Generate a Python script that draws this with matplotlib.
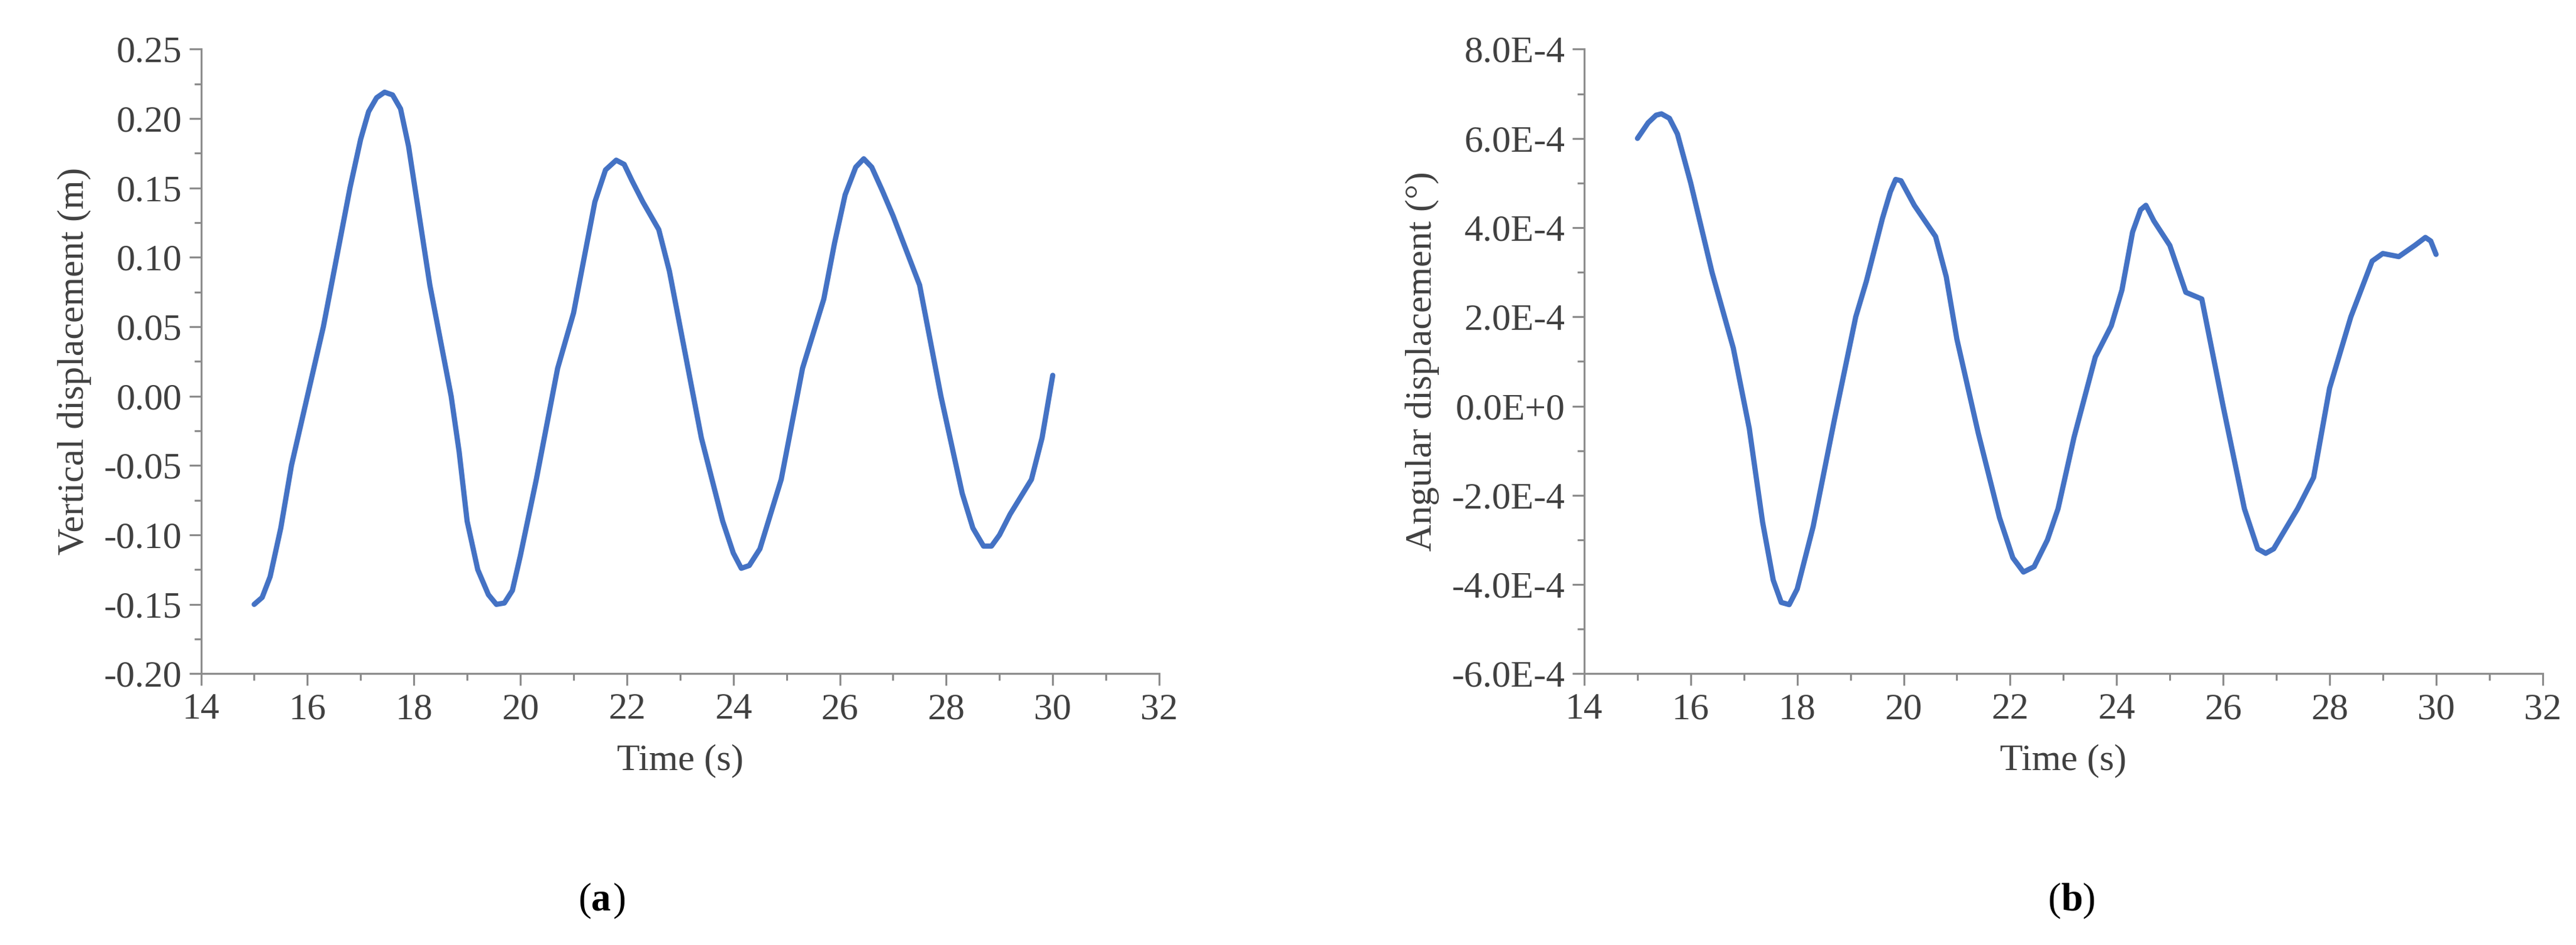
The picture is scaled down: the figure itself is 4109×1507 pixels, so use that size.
import matplotlib
matplotlib.use("Agg")
import matplotlib.pyplot as plt
from matplotlib.ticker import MultipleLocator, FuncFormatter

# ── data ─────────────────────────────────────────────────────────────
time_a = [15.0, 15.15, 15.3, 15.5, 15.7, 16.0, 16.3, 16.55, 16.8, 17.0, 17.15, 17.3, 17.45,
          17.6, 17.75, 17.9, 18.1, 18.3, 18.5, 18.7, 18.85, 19.0, 19.2, 19.4, 19.55,
          19.7, 19.85, 20.0, 20.3, 20.7, 21.0, 21.2, 21.4, 21.6, 21.8, 21.95, 22.1,
          22.3, 22.6, 22.8, 23.0, 23.4, 23.8, 24.0, 24.15, 24.3, 24.5, 24.9, 25.3,
          25.7, 25.9, 26.1, 26.3, 26.45, 26.6, 26.8, 27.0, 27.5, 27.9, 28.3, 28.5,
          28.7, 28.85, 29.0, 29.2, 29.6, 29.8, 30.0]
vert_disp = [-0.15, -0.145, -0.13, -0.095, -0.05, 0.0, 0.05, 0.10, 0.15, 0.185, 0.205, 0.215, 0.219,
             0.217, 0.207, 0.18, 0.13, 0.08, 0.04, 0.0, -0.04, -0.09, -0.125, -0.143, -0.15,
             -0.149, -0.14, -0.115, -0.06, 0.02, 0.06, 0.10, 0.14, 0.163, 0.17, 0.167, 0.155,
             0.14, 0.12, 0.09, 0.05, -0.03, -0.09, -0.113, -0.124, -0.122, -0.11, -0.06, 0.02,
             0.07, 0.11, 0.145, 0.165, 0.171, 0.165, 0.148, 0.13, 0.08, 0.0, -0.07, -0.095,
             -0.108, -0.108, -0.1, -0.085, -0.06, -0.03, 0.015]

time_b = [15.0, 15.2, 15.35, 15.45, 15.6, 15.75, 16.0, 16.4, 16.8, 17.1, 17.35, 17.55, 17.7,
          17.85, 18.0, 18.3, 18.7, 19.1, 19.3, 19.6, 19.75, 19.85, 19.95, 20.2, 20.6,
          20.8, 21.0, 21.4, 21.8, 22.05, 22.25, 22.45, 22.7, 22.9, 23.2, 23.6, 23.9,
          24.1, 24.3, 24.45, 24.55, 24.7, 25.0, 25.3, 25.6, 26.0, 26.4, 26.65, 26.8,
          26.95, 27.1, 27.4, 27.7, 28.0, 28.4, 28.8, 29.0, 29.3, 29.6, 29.8, 29.9, 30.0]
ang_disp_e4 = [6.0, 6.35, 6.52, 6.55, 6.45, 6.1, 5.0, 3.0, 1.3, -0.5, -2.6, -3.9, -4.4,
               -4.45, -4.1, -2.7, -0.3, 2.0, 2.8, 4.2, 4.8, 5.08, 5.05, 4.5, 3.8,
               2.9, 1.5, -0.6, -2.5, -3.4, -3.72, -3.6, -3.0, -2.3, -0.7, 1.1, 1.8,
               2.6, 3.9, 4.4, 4.5, 4.15, 3.6, 2.55, 2.4, 0.0, -2.3, -3.2, -3.3,
               -3.2, -2.9, -2.3, -1.6, 0.4, 2.0, 3.25, 3.42, 3.35, 3.6, 3.78, 3.7, 3.4]
ang_disp = [v * 1e-4 for v in ang_disp_e4]

plt.rcParams["font.family"] = ["Liberation Serif", "DejaVu Serif"]
FS = 43
LINE = "#4472C4"
GREY = "#8c8c8c"
TXT = "#404040"

fig = plt.figure(figsize=(41.09, 15.07), dpi=100)
ax_a = fig.add_axes([0.078, 0.287, 0.372, 0.661])
ax_b = fig.add_axes([0.615, 0.287, 0.372, 0.661])


def style(ax):
    for s in ("top", "right"):
        ax.spines[s].set_visible(False)
    for s in ("left", "bottom"):
        ax.spines[s].set_color(GREY)
        ax.spines[s].set_linewidth(2.2)
    ax.tick_params(which="both", direction="out", color=GREY, width=2.2,
                   labelsize=FS, labelcolor=TXT, pad=8)
    ax.tick_params(which="major", length=14)
    ax.tick_params(which="minor", length=8)
    ax.set_xlim(14, 32)
    ax.xaxis.set_major_locator(MultipleLocator(2))
    ax.xaxis.set_minor_locator(MultipleLocator(1))
    ax.set_xlabel("Time (s)", fontsize=FS, color=TXT, labelpad=20)


ax_a.plot(time_a, vert_disp, color=LINE, lw=6, solid_joinstyle="round", solid_capstyle="round")
style(ax_a)
ax_a.set_ylim(-0.20, 0.25)
ax_a.yaxis.set_major_locator(MultipleLocator(0.05))
ax_a.yaxis.set_minor_locator(MultipleLocator(0.025))
ax_a.yaxis.set_major_formatter(FuncFormatter(lambda v, p: f"{v:.2f}"))
ax_a.set_ylabel("Vertical displacement (m)", fontsize=FS, color=TXT, labelpad=14)

ax_b.plot(time_b, ang_disp, color=LINE, lw=6, solid_joinstyle="round", solid_capstyle="round")
style(ax_b)
ax_b.set_ylim(-6e-4, 8e-4)
ax_b.yaxis.set_major_locator(MultipleLocator(2e-4))
ax_b.yaxis.set_minor_locator(MultipleLocator(1e-4))


def sci(v, p):
    m = round(v / 1e-4, 6)
    if abs(m) < 1e-9:
        return "0.0E+0"
    return f"{m:.1f}E-4"


ax_b.yaxis.set_major_formatter(FuncFormatter(sci))
ax_b.set_ylabel("Angular displacement (°)", fontsize=FS, color=TXT, labelpad=14)

for x, letter in ((0.2295, "a"), (0.800, "b")):
    fig.text(x, 0.047, "(", fontsize=FS + 2, ha="right", va="center")
    fig.text(x, 0.047, letter, fontsize=FS + 2, ha="left", va="center", fontweight="bold")
    fig.text(x + 0.0085, 0.047, ")", fontsize=FS + 2, ha="left", va="center")

fig.savefig("out.png", dpi=100)
